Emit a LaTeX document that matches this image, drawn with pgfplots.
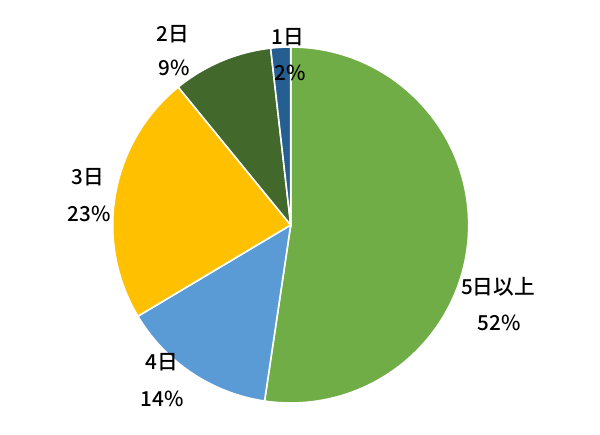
\documentclass[border=0pt]{standalone}
\usepackage{pgfplots}
\pgfplotsset{compat=1.18}
\usepackage{pgfplotstable}
\usepackage{fontspec}
\setmainfont{Noto Sans CJK JP}[BoldFont={Noto Sans CJK JP Medium}]

\definecolor{pieA}{HTML}{70AD47}
\definecolor{pieB}{HTML}{5B9BD5}
\definecolor{pieC}{HTML}{FFC000}
\definecolor{pieD}{HTML}{43682B}
\definecolor{pieE}{HTML}{255E91}

% share of each slice, clockwise from 12 o'clock
\pgfplotstableread{
value col
52.4 pieA
14.1 pieB
22.7 pieC
9.1 pieD
1.8 pieE
}\piedata

\begin{document}
\begin{tikzpicture}
  \begin{axis}[
    x=0.75pt, y=0.75pt,
    xmin=0, xmax=600, ymin=0, ymax=435,
    hide axis, clip=false,
  ]
    \path (axis cs:0,0) rectangle (axis cs:600,435);
    \xdef\cur{90}
    \pgfplotsinvokeforeach{0,...,4}{
      \pgfplotstablegetelem{#1}{value}\of\piedata \let\pval\pgfplotsretval
      \pgfplotstablegetelem{#1}{col}\of\piedata \let\pcol\pgfplotsretval
      \pgfmathsetmacro\nxt{\cur-3.5964*\pval}
      \edef\temp{\noexpand\filldraw[fill=\pcol, draw=white, line width=1.2pt]
        (axis cs:290.7,210) -- ++(\cur:133.5pt)
        arc[start angle=\cur, end angle=\nxt, radius=133.5pt] -- cycle;}
      \temp
      \global\let\cur\nxt
    }
    \tikzset{lbl/.style={font=\fontsize{15.5}{18}\selectfont\bfseries, inner sep=0pt}}
    \node[lbl] at (axis cs:288,398) {1日};
    \node[lbl] at (axis cs:290,362) {2\%};
    \node[lbl] at (axis cs:173,401) {2日};
    \node[lbl] at (axis cs:174,367) {9\%};
    \node[lbl] at (axis cs:88,258) {3日};
    \node[lbl] at (axis cs:89,221) {23\%};
    \node[lbl] at (axis cs:162,73) {4日};
    \node[lbl] at (axis cs:162,36) {14\%};
    \node[lbl] at (axis cs:498,148) {5日以上};
    \node[lbl] at (axis cs:499,112) {52\%};
  \end{axis}
\end{tikzpicture}
\end{document}
